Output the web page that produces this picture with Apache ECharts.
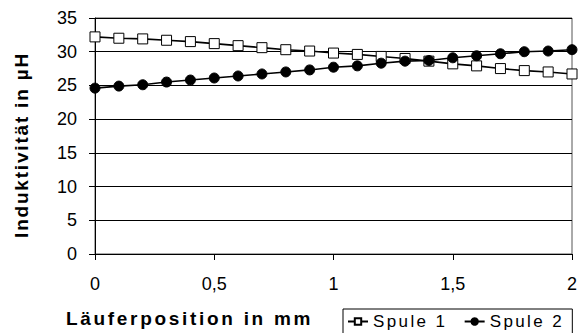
<!DOCTYPE html>
<html>
<head>
<meta charset="utf-8">
<script src="https://cdn.jsdelivr.net/npm/echarts@6/dist/echarts.min.js"></script>
<style>
html,body{margin:0;padding:0;background:#fff;}
#chart{width:584px;height:333px;}
</style>
</head>
<body>
<div id="chart"></div>
<script>
const positions = [0,0.1,0.2,0.3,0.4,0.5,0.6,0.7,0.8,0.9,1.0,1.1,1.2,1.3,1.4,1.5,1.6,1.7,1.8,1.9,2.0];
const spule1 = [32.2,32.0,31.9,31.7,31.5,31.2,30.9,30.6,30.3,30.1,29.8,29.6,29.3,29.0,28.6,28.2,27.9,27.5,27.2,27.0,26.7];
const spule2 = [24.6,24.9,25.1,25.5,25.8,26.1,26.4,26.7,27.0,27.3,27.7,27.9,28.3,28.6,28.7,29.1,29.4,29.7,30.0,30.1,30.3];
const xTicks = ['0','0,5','1','1,5','2'];
const seriesNames = ['Spule 1','Spule 2'];
const xName = 'Läuferposition in mm';
const yName = 'Induktivität in µH';

const font = 'Liberation Sans, Arial, sans-serif';
const chart = echarts.init(document.getElementById('chart'), null, {renderer:'svg'});
chart.setOption({
  animation:false,
  backgroundColor:'#fff',
  grid:{left:95,right:12,top:18,bottom:76,show:true,borderColor:'#555',borderWidth:1,backgroundColor:'transparent'},
  legend:{
    data:seriesNames,
    left:343, top:309,
    padding:[4,25,8,4],
    itemGap:33,
    itemWidth:20, itemHeight:8,
    borderColor:'#000', borderWidth:1,
    textStyle:{fontFamily:font,fontSize:17,color:'#000'}
  },
  xAxis:{
    type:'value', min:0, max:2, interval:0.5,
    name:xName, nameLocation:'middle', nameGap:55,
    nameTextStyle:{fontFamily:font,fontSize:19,fontWeight:'bold',color:'#000',padding:[0,288,0,0]},
    axisLine:{lineStyle:{color:'#000',width:1}},
    axisTick:{show:true,length:6,inside:false,lineStyle:{color:'#000'}},
    axisLabel:{fontFamily:font,fontSize:18,color:'#000',margin:21,
      formatter:function(v){ const i=Math.round(v/0.5); return xTicks[i]; }},
    splitLine:{show:false}
  },
  yAxis:{
    type:'value', min:0, max:35, interval:5,
    name:yName, nameLocation:'middle', nameGap:64, nameRotate:90,
    nameTextStyle:{fontFamily:font,fontSize:19,fontWeight:'bold',color:'#000',padding:[0,18,0,0]},
    axisLine:{show:true,lineStyle:{color:'#000',width:1}},
    axisTick:{show:true,length:6,lineStyle:{color:'#000'}},
    axisLabel:{fontFamily:font,fontSize:18,color:'#000',margin:18},
    splitLine:{show:true,lineStyle:{color:'#000',width:1}}
  },
  series:[
    {name:seriesNames[0],type:'line',data:positions.map((x,i)=>[x,spule1[i]]),
     symbol:'rect',symbolSize:10,showAllSymbol:true,
     lineStyle:{color:'#000',width:1.6},
     itemStyle:{color:'#fff',borderColor:'#000',borderWidth:1}},
    {name:seriesNames[1],type:'line',data:positions.map((x,i)=>[x,spule2[i]]),
     symbol:'circle',symbolSize:10,showAllSymbol:true,
     lineStyle:{color:'#000',width:1.6},
     itemStyle:{color:'#000',borderColor:'#000',borderWidth:1}}
  ]
});
// Excel-like wide character spacing on the texts
const spacing = {};
spacing[xName] = '2.7px';
spacing[yName] = '1.8px';
spacing[seriesNames[0]] = '2.4px';
spacing[seriesNames[1]] = '2.4px';
document.querySelectorAll('#chart text').forEach(function(t){
  const s = spacing[t.textContent];
  if (s) t.style.letterSpacing = s;
});
</script>
</body>
</html>
